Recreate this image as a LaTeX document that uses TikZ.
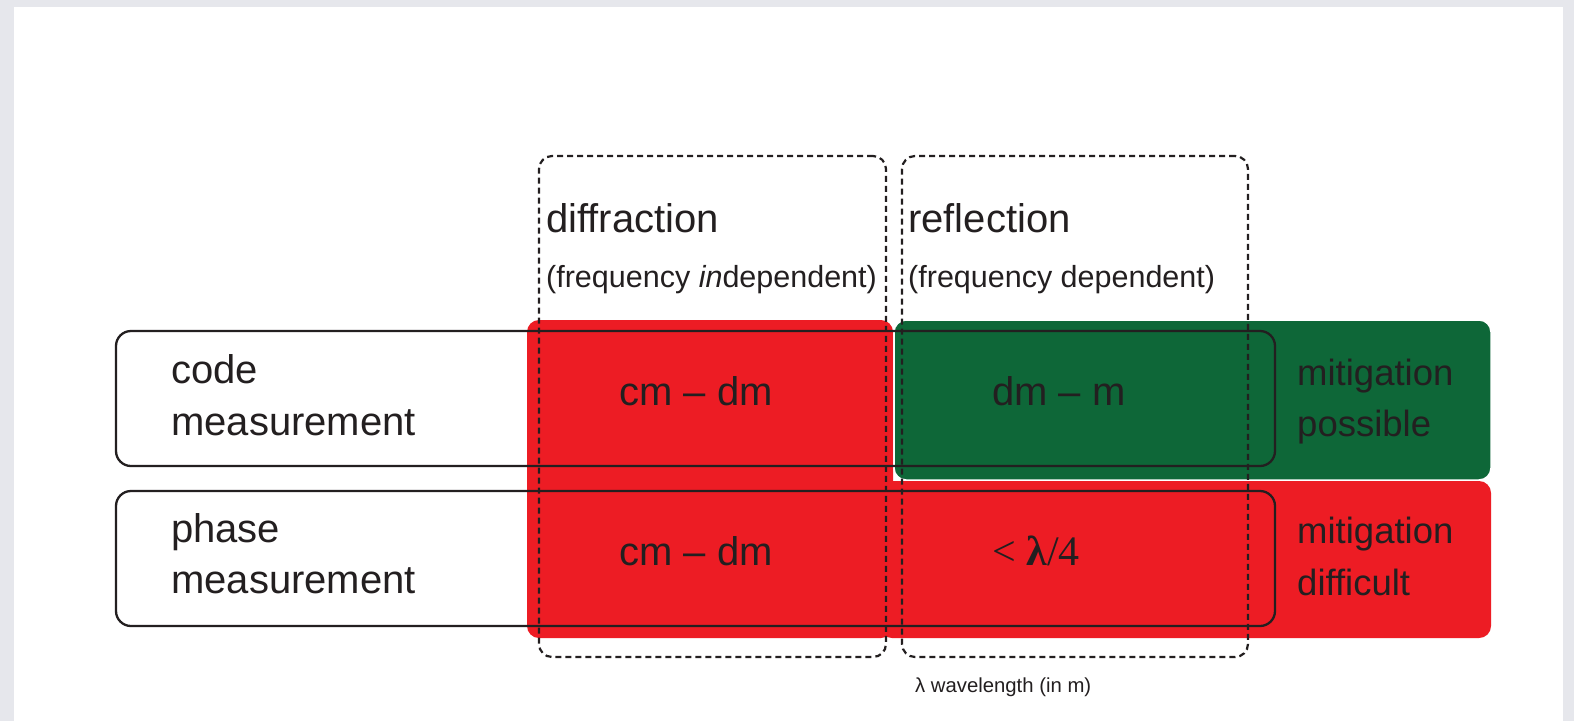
\documentclass[tikz,border=0pt]{standalone}
\usepackage{fontspec}
\setmainfont{Liberation Sans}
\newfontfamily\serifx{Liberation Serif}
\definecolor{bggrey}{HTML}{E6E7EC}
\definecolor{mred}{HTML}{ED1C24}
\definecolor{mgreen}{HTML}{0E6738}
\definecolor{ink}{HTML}{231F20}
\begin{document}
\begin{tikzpicture}[x=1pt,y=-1pt,
  rowbox/.style={draw=ink, line width=2.3pt, rounded corners=15pt, rectangle, inner sep=0pt},
  dashbox/.style={draw=ink, line width=2.2pt, dash pattern=on 6pt off 4pt, rounded corners=13pt, rectangle, inner sep=0pt},
  bigtxt/.style={text=ink, inner sep=0pt, font=\fontsize{40}{48}\selectfont},
  midtxt/.style={text=ink, inner sep=0pt, font=\fontsize{30.5}{36}\selectfont},
  mittxt/.style={text=ink, inner sep=0pt, font=\fontsize{36.5}{44}\selectfont},
  smalltxt/.style={text=ink, inner sep=0pt, font=\fontsize{20.3}{24}\selectfont}]
\useasboundingbox (0,0) rectangle (1574,721);
\fill[bggrey] (0,0) rectangle (1574,721);
\fill[white] (14,7) rectangle (1563,721);
% coloured areas
\fill[mred, rounded corners=12pt] (527,320) rectangle (893,638);
\fill[mred, rounded corners=12pt] (880,481) rectangle (1491,638);
\filldraw[fill=mgreen, draw=white, line width=1.5pt, rounded corners=12pt] (894,320) rectangle (1491,480);
% row boxes
\node[rowbox, minimum width=1159pt, minimum height=135pt] (codebox) at (695.5,398.5) {};
\node[rowbox, minimum width=1159pt, minimum height=135pt] (phasebox) at (695.5,558.5) {};
% dashed column boxes
\node[dashbox, minimum width=347pt, minimum height=501pt] (diffbox) at (712.5,406.5) {};
\node[dashbox, minimum width=346pt, minimum height=501pt] (reflbox) at (1075,406.5) {};
% column headers
\node[bigtxt, anchor=base west] (diffl) at (546,232) {diffraction};
\node[midtxt, anchor=base west] (diffs) at (546,287) {(frequency \textit{in}dependent)};
\node[bigtxt, anchor=base west] (refll) at (908,232) {reflection};
\node[midtxt, anchor=base west] (refls) at (908,287) {(frequency dependent)};
% row labels
\node[bigtxt, anchor=base west] (code1) at (171,383) {code};
\node[bigtxt, anchor=base west] (code2) at (171,435) {measurement};
\node[bigtxt, anchor=base west] (phase1) at (171,542) {phase};
\node[bigtxt, anchor=base west] (phase2) at (171,593) {measurement};
% cells
\node[bigtxt, anchor=base] (c11) at (696,405) {cm – dm};
\node[bigtxt, anchor=base] (c12) at (1059,405) {dm – m};
\node[bigtxt, anchor=base] (c21) at (696,565) {cm – dm};
\node[text=ink, inner sep=0pt, anchor=base west, font=\serifx\fontsize{42}{48}\selectfont] (c22) at (992,565) {< \textbf{λ}/4};
% mitigation
\node[mittxt, anchor=base west] (mit1) at (1297,385) {mitigation};
\node[mittxt, anchor=base west] (mit2) at (1297,436) {possible};
\node[mittxt, anchor=base west] (mit3) at (1297,543) {mitigation};
\node[mittxt, anchor=base west] (mit4) at (1297,595) {difficult};
% footnote
\node[smalltxt, anchor=base west] (foot) at (915,692) {λ wavelength (in m)};
\end{tikzpicture}
\end{document}
